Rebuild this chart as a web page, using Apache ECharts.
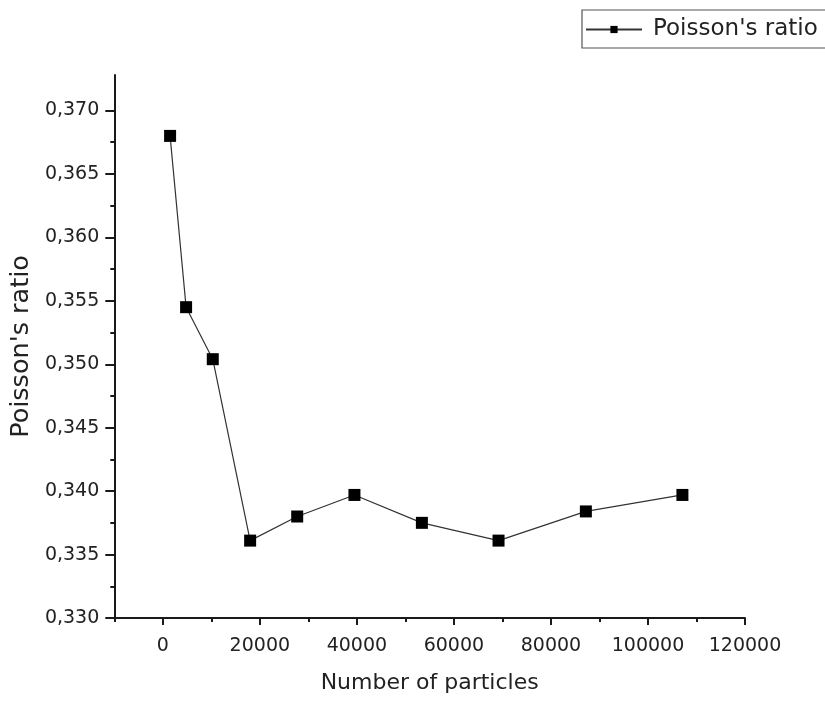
<!DOCTYPE html>
<html>
<head>
<meta charset="utf-8">
<script src="https://cdn.jsdelivr.net/npm/echarts@6/dist/echarts.min.js"></script>
<style>
html,body{margin:0;padding:0;background:#fff;overflow:hidden;width:825px;height:701px;}
#chart{width:860px;height:701px;}
</style>
</head>
<body>
<div id="chart"></div>
<script>
var particles = [1500, 4800, 10300, 18000, 27700, 39500, 53400, 69200, 87200, 107100];
var poisson = [0.3680, 0.3545, 0.3504, 0.3361, 0.3380, 0.3397, 0.3375, 0.3361, 0.3384, 0.3397];
var xTicks = [0, 20000, 40000, 60000, 80000, 100000, 120000];
var xTickLabels = ['0', '20000', '40000', '60000', '80000', '100000', '120000'];
var xMinorTicks = [-10000, 10000, 30000, 50000, 70000, 90000, 110000];
var yTicks = [0.330, 0.335, 0.340, 0.345, 0.350, 0.355, 0.360, 0.365, 0.370];
var yTickLabels = ['0,330', '0,335', '0,340', '0,345', '0,350', '0,355', '0,360', '0,365', '0,370'];
var yMinorTicks = [0.3325, 0.3375, 0.3425, 0.3475, 0.3525, 0.3575, 0.3625, 0.3675];
var seriesName = "Poisson's ratio";
var xName = 'Number of particles';
var yName = "Poisson's ratio";

function lookup(ticks, labels, v) {
  for (var i = 0; i < ticks.length; i++) {
    if (Math.abs(ticks[i] - v) < 1e-9) return labels[i];
  }
  return '';
}

var font = 'DejaVu Sans, sans-serif';
var axisColor = '#1a1a1a';
var textColor = '#222';
var chart = echarts.init(document.getElementById('chart'));
chart.setOption({
  backgroundColor: '#ffffff',
  animation: false,
  textStyle: {fontFamily: font},
  legend: {
    left: 582, top: 10,
    padding: [8, 20, 7, 3],
    borderColor: '#555', borderWidth: 1.2,
    itemWidth: 56, itemHeight: 9, itemGap: 6,
    textStyle: {fontSize: 23, color: textColor, fontFamily: font, padding: [0, 0, 0, 6]},
    data: [seriesName]
  },
  grid: {left: 113, top: 75, right: 115, bottom: 83, containLabel: false},
  xAxis: [{
    type: 'value', min: -10000, max: 120000, position: 'bottom',
    name: xName, nameLocation: 'middle', nameGap: 54,
    nameTextStyle: {fontSize: 22, color: textColor, fontFamily: font},
    axisLine: {show: true, onZero: false, lineStyle: {color: axisColor, width: 2}},
    axisTick: {show: true, length: 7, customValues: xTicks, lineStyle: {color: axisColor, width: 2}},
    axisLabel: {
      customValues: xTicks, fontSize: 19, color: textColor, margin: 19, fontFamily: font,
      formatter: function (v) { return lookup(xTicks, xTickLabels, v); }
    },
    splitLine: {show: false}
  }, {
    type: 'value', min: -10000, max: 120000, position: 'bottom',
    axisLine: {show: false, onZero: false},
    axisTick: {show: true, length: 4, customValues: xMinorTicks, lineStyle: {color: axisColor, width: 2}},
    axisLabel: {show: false},
    splitLine: {show: false}
  }],
  yAxis: [{
    type: 'value', min: 0.330, max: 0.3728, interval: 0.005, position: 'left',
    name: yName, nameLocation: 'middle', nameGap: 76,
    nameTextStyle: {fontSize: 25.5, color: textColor, fontFamily: font},
    axisLine: {show: true, onZero: false, lineStyle: {color: axisColor, width: 2}},
    axisTick: {show: true, length: 9, customValues: yTicks, lineStyle: {color: axisColor, width: 2}},
    axisLabel: {
      customValues: yTicks, fontSize: 19, color: textColor, margin: 15, fontFamily: font,
      formatter: function (v) { return lookup(yTicks, yTickLabels, v); }
    },
    splitLine: {show: false}
  }, {
    type: 'value', min: 0.330, max: 0.3728, position: 'left',
    axisLine: {show: false, onZero: false},
    axisTick: {show: true, length: 4, customValues: yMinorTicks, lineStyle: {color: axisColor, width: 2}},
    axisLabel: {show: false},
    splitLine: {show: false}
  }],
  series: [{
    name: seriesName,
    type: 'line',
    xAxisIndex: 0, yAxisIndex: 0,
    data: particles.map(function (x, i) { return [x, poisson[i]]; }),
    symbol: 'rect', symbolSize: 12,
    itemStyle: {color: '#000'},
    lineStyle: {color: '#333', width: 1.2}
  }]
});
</script>
</body>
</html>
